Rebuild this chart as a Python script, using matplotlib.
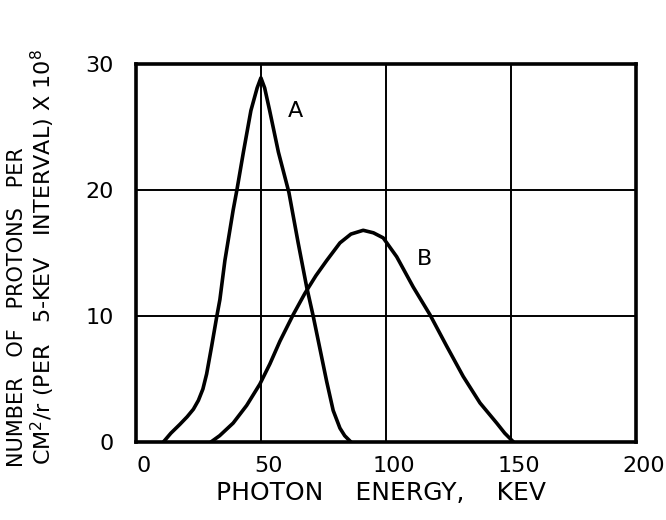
import numpy as np
import matplotlib.pyplot as plt
import matplotlib.transforms as mtransforms

# curve A
a_energy = [11, 14, 17.6, 20.5, 23, 25, 26.8, 28.3, 30.3, 32.3, 33.6, 35.6, 38.9, 40.4, 43, 46, 48.5,
            50, 51.5, 53.5, 57, 61.2, 64.9, 68.3, 70.9, 73.6, 76.3, 78.9, 81.6, 83.5, 86]
a_count = [0, 0.7, 1.4, 2.0, 2.6, 3.3, 4.2, 5.4, 7.6, 9.9, 11.3, 14.4, 18.4, 20, 23.0, 26.3, 28.1,
           28.9, 28.1, 26.3, 23.0, 19.8, 15.8, 12.3, 10.0, 7.4, 4.8, 2.5, 1.1, 0.5, 0]

# curve B
b_energy = [30, 33.5, 38.9, 44.3, 49.6, 53.6, 57.6, 62.9, 67.6, 72, 76.3, 81.6, 86,
            90.9, 95, 98.9, 104.3, 110.9, 117.6, 124.3, 130.9, 137.6, 144.3, 147.5, 151]
b_count = [0, 0.5, 1.5, 2.9, 4.6, 6.2, 8.0, 10.1, 11.8, 13.2, 14.4, 15.8, 16.5,
           16.8, 16.6, 16.2, 14.7, 12.3, 10.1, 7.6, 5.2, 3.1, 1.5, 0.7, 0]

xticks = [0, 50, 100, 150, 200]
yticks = [0, 10, 20, 30]

fig = plt.figure(figsize=(6.66, 5.2), dpi=100)
ax = fig.add_axes([0.204, 0.15, 0.751, 0.727])

ax.plot(a_energy, a_count, color="black", lw=2.6, solid_joinstyle="round", solid_capstyle="round")
ax.plot(b_energy, b_count, color="black", lw=2.6, solid_joinstyle="round", solid_capstyle="round")

ax.text(64, 26.3, "A", fontsize=16, ha="center", va="center")
ax.text(115.6, 14.5, "B", fontsize=16, ha="center", va="center")

ax.set_xlim(0, 200)
ax.set_ylim(0, 30)
ax.set_xticks(xticks)
ax.set_yticks(yticks)
ax.grid(True, color="black", lw=1.4)
ax.tick_params(length=0, labelsize=16)
ax.tick_params(axis="y", pad=16)
ax.tick_params(axis="x", pad=10)
shift = mtransforms.ScaledTranslation(0.08, 0, fig.dpi_scale_trans)
for lbl in ax.get_xticklabels():
    lbl.set_transform(lbl.get_transform() + shift)
for s in ax.spines.values():
    s.set_linewidth(2.6)

ax.set_xlabel("PHOTON    ENERGY,    KEV", fontsize=18, labelpad=4)
ax.xaxis.label.set_x(0.49)
fig.text(0.026, 0.41, "NUMBER   OF   PROTONS   PER", rotation=90, fontsize=15,
         ha="center", va="center")
fig.text(0.064, 0.505, "CM$^2$/r (PER   5-KEV   INTERVAL) X 10$^8$", rotation=90,
         fontsize=16, ha="center", va="center")

plt.savefig("out.png", dpi=100)
